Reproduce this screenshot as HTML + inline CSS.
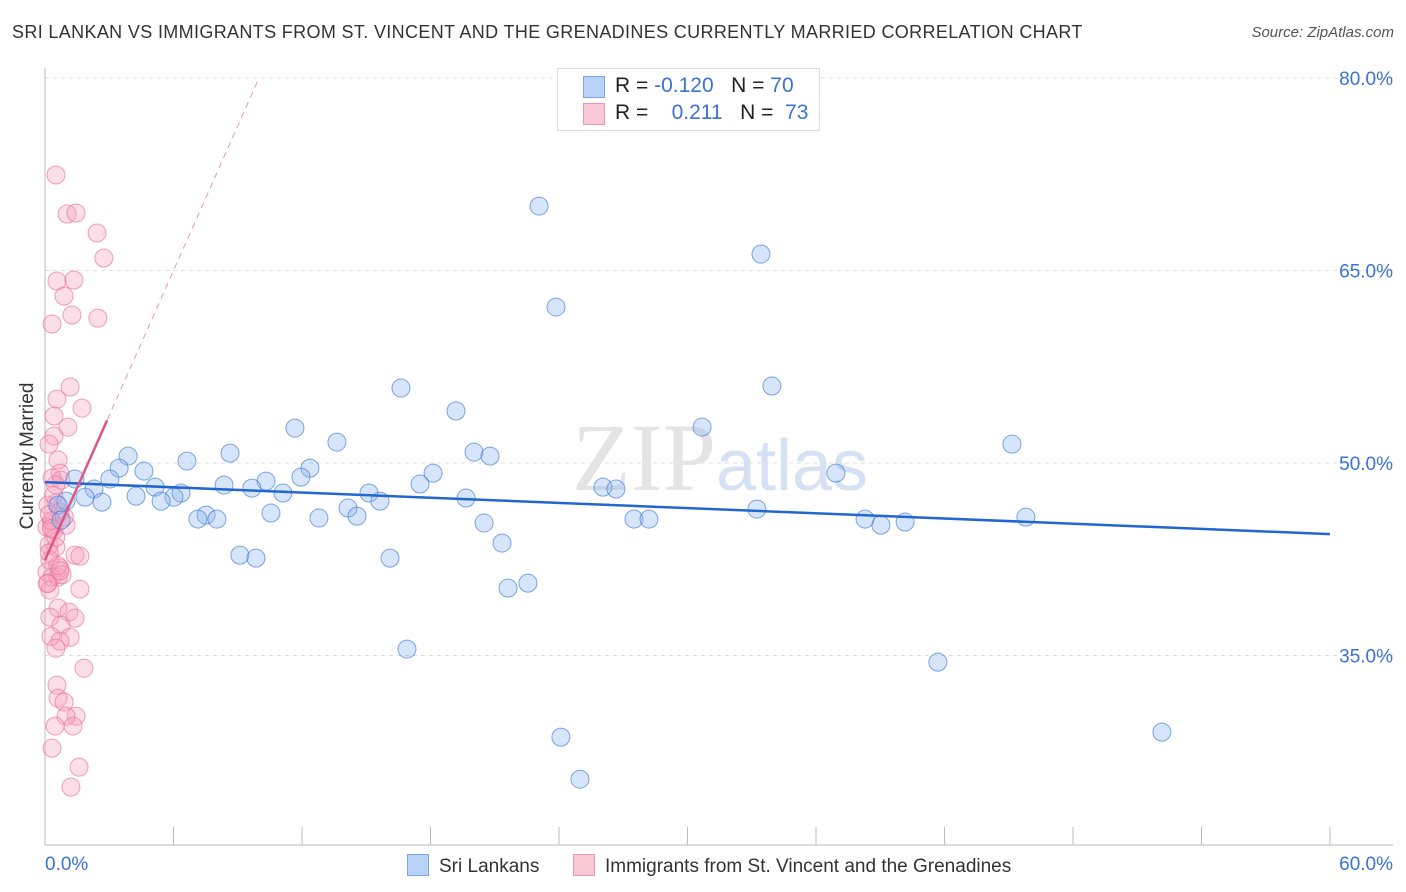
<!DOCTYPE html>
<html><head><meta charset="utf-8"><style>
body{margin:0;background:#fff;font-family:"Liberation Sans",sans-serif;}
#wrap{position:relative;width:1406px;height:892px;overflow:hidden;}
</style></head><body>
<div id="wrap">
<div style="position:absolute;left:12px;top:22px;font-size:18px;color:#333;letter-spacing:0.35px;">SRI LANKAN VS IMMIGRANTS FROM ST. VINCENT AND THE GRENADINES CURRENTLY MARRIED CORRELATION CHART</div>
<div style="position:absolute;right:12px;top:24px;font-size:15px;color:#555;font-style:italic;">Source: ZipAtlas.com</div>
<svg id="svg" width="1406" height="892" style="position:absolute;left:0;top:0"></svg>
</div>
<script>
const blueX=[23.07,33.43,23.86,16.62,33.94,19.19,30.68,11.67,45.15,13.63,20.03,20.78,3.88,8.64,6.63,3.46,4.62,36.93,18.12,12.37,11.95,1.40,3.03,10.32,17.51,8.36,5.14,9.66,26.05,26.66,2.29,6.35,11.11,15.13,4.25,1.87,19.66,6.02,5.42,0.98,2.66,15.64,0.61,14.15,33.24,10.55,7.52,14.57,7.14,8.03,12.79,27.50,28.20,38.29,40.16,45.80,39.03,20.50,0.75,21.34,9.10,9.85,16.11,22.55,21.62,16.90,41.69,52.15,24.09,24.98];
const blueY=[70.02,66.28,62.15,55.84,56.0,54.05,52.80,52.72,51.47,51.63,50.85,50.54,50.54,50.77,50.15,49.60,49.37,49.21,49.21,49.60,48.90,48.75,48.75,48.59,48.36,48.28,48.12,48.04,48.12,47.97,47.97,47.66,47.66,47.66,47.42,47.34,47.27,47.34,47.03,47.03,46.95,47.03,46.72,46.49,46.41,46.10,45.94,45.86,45.63,45.63,45.71,45.63,45.63,45.63,45.40,45.78,45.16,45.32,45.55,43.76,42.82,42.59,42.59,40.64,40.25,35.50,34.48,29.03,28.64,25.36];
const pinkX=[0.51,1.03,1.45,2.43,2.75,0.56,1.35,0.89,1.26,2.47,0.33,1.17,0.56,1.73,0.42,1.07,0.42,0.19,0.61,0.70,0.33,0.75,0.51,0.14,0.70,0.98,0.33,0.09,0.42,0.19,0.51,1.40,1.63,0.23,0.70,0.09,0.33,0.61,0.14,1.63,0.23,0.61,1.12,0.23,1.40,0.75,0.28,1.17,0.70,0.51,1.82,0.56,0.61,0.89,1.45,0.98,0.47,1.31,0.33,1.59,1.21,0.3,0.5,0.2,0.8,0.4,0.1,0.6,0.3,0.9,0.2,0.5,0.7];
const pinkY=[72.44,69.40,69.48,67.92,65.97,64.18,64.26,63.01,61.53,61.29,60.83,55.92,54.98,54.28,53.66,52.80,52.10,51.47,50.23,49.21,48.82,48.67,46.88,46.72,46.17,45.16,45.24,45.00,44.77,43.60,43.44,42.82,42.74,42.43,41.81,41.50,41.11,41.11,40.64,40.17,40.09,38.69,38.38,37.99,37.91,37.37,36.49,36.42,36.12,35.57,34.01,32.69,31.67,31.37,30.27,30.27,29.50,29.50,27.78,26.30,24.74,45.5,44.2,46.0,41.3,47.5,40.6,42.0,44.9,45.8,43.0,48.3,41.6];
const blueTrend=[48.51,44.46];
const pinkTrend=[42.43,3.76];
const yTicks=[80,65,50,35];
const xTicks=[0,6,12,18,24,30,36,42,48,54,60];
const NS="http://www.w3.org/2000/svg";
const svg=document.getElementById('svg');
const X=v=>45+v*(1285/60), Y=v=>78+(80-v)*(192.5/15);
function mk(t,a,p){const e=document.createElementNS(NS,t);for(const k in a)e.setAttribute(k,a[k]);(p||svg).appendChild(e);return e;}
yTicks.forEach(v=>{
 const l=mk('line',{x1:45,x2:1393,y1:Y(v),y2:Y(v),stroke:'#ddd','stroke-dasharray':'4,4'});
 
 
 const t=mk('text',{x:1393,y:Y(v)+7,'text-anchor':'end','font-size':19,fill:'#3b73d0'});
 t.textContent=v.toFixed(1)+'%';
 
 
});
const ax=mk('line',{x1:45,x2:45,y1:68,y2:845,stroke:'#bbb'});


const bx=mk('line',{x1:45,x2:1393,y1:845,y2:845,stroke:'#bbb'});


xTicks.forEach(v=>{
 const l=mk('line',{x1:X(v),x2:X(v),y1:827,y2:845,stroke:'#bbb'});
 
 
});
[[0,'start',45],[60,'end',1393]].forEach(([v,a,x])=>{
 const t=mk('text',{x:x,y:870,'text-anchor':a,'font-size':19,fill:'#3b73d0'});
 t.textContent=v.toFixed(1)+'%';
 
 
});
const wm=mk('text',{x:720,y:490,'text-anchor':'middle','font-size':96,fill:'#e4e4e4','font-family':'Liberation Serif'});
wm.innerHTML='ZIP<tspan font-family="Liberation Sans" font-size="72" fill="#d5e2f3">atlas</tspan>';


const yt=mk('text',{x:0,y:0,'font-size':19,fill:'#333','text-anchor':'middle',transform:'translate(33,456) rotate(-90)'});
yt.textContent='Currently Married';


pinkX.forEach((x,i)=>{
 const c=mk('circle',{cx:X(x),cy:Y(pinkY[i]),r:9,fill:'rgba(246,160,190,0.35)',stroke:'rgba(232,110,150,0.65)','stroke-width':1});
 
 
});
blueX.forEach((x,i)=>{
 const c=mk('circle',{cx:X(x),cy:Y(blueY[i]),r:9,fill:'rgba(140,180,240,0.35)',stroke:'rgba(60,120,210,0.65)','stroke-width':1});
 
 
});
const bt=mk('line',{x1:X(0),y1:Y(blueTrend[0]),x2:X(60),y2:Y(blueTrend[1]),stroke:'#2266d0','stroke-width':2.5});


const pEnd=(80-pinkTrend[0])/pinkTrend[1];
const pd=mk('line',{x1:X(0),y1:Y(pinkTrend[0]),x2:X(pEnd),y2:Y(80),stroke:'#e895b0','stroke-width':1,'stroke-dasharray':'6,5'});


const ps=mk('line',{x1:X(0),y1:Y(pinkTrend[0]),x2:X(2.9),y2:Y(pinkTrend[0]+pinkTrend[1]*2.9),stroke:'#e05585','stroke-width':2.5});


</script>
<div style="position:absolute;left:557px;top:68px;width:261px;height:61px;border:1px solid #ddd;background:#fff;font-size:21px;color:#222;">
 <div style="position:absolute;left:25px;top:7px;width:20px;height:20px;background:#b8d1f5;border:1px solid #7aa5e6;"></div>
 <div style="position:absolute;left:57px;top:5px;">R = <span style="color:#3b73d0">-0.120</span>&nbsp;&nbsp;&nbsp;N = <span style="color:#3b73d0">70</span></div>
 <div style="position:absolute;left:25px;top:34px;width:20px;height:20px;background:#f9c8d7;border:1px solid #ec95b2;"></div>
 <div style="position:absolute;left:57px;top:32px;">R = &nbsp;&nbsp;&nbsp;<span style="color:#3b73d0">0.211</span>&nbsp;&nbsp;&nbsp;N = &nbsp;<span style="color:#3b73d0">73</span></div>
</div>
<div style="position:absolute;left:0;top:852px;width:1406px;font-size:19px;color:#333;">
 <div style="position:absolute;left:407px;top:2px;"><span style="display:inline-block;width:20px;height:20px;background:#b8d1f5;border:1px solid #7aa5e6;vertical-align:-4px;margin-right:10px;"></span>Sri Lankans</div>
 <div style="position:absolute;left:573px;top:2px;"><span style="display:inline-block;width:20px;height:20px;background:#f9c8d7;border:1px solid #ec95b2;vertical-align:-4px;margin-right:10px;"></span>Immigrants from St. Vincent and the Grenadines</div>
</div>
</body></html>
